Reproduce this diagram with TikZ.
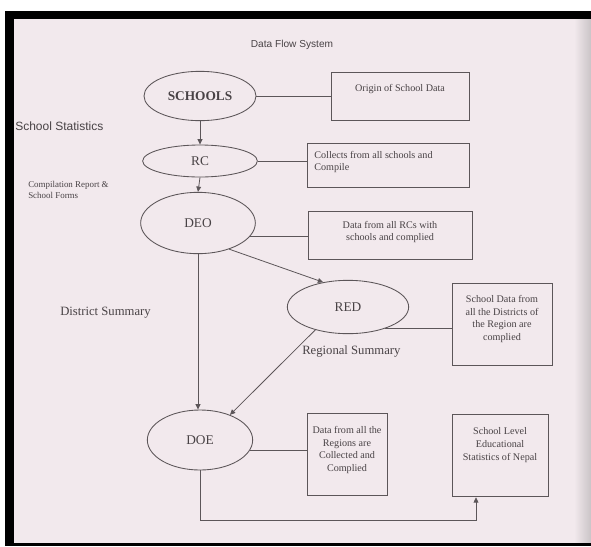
\documentclass[tikz,border=0pt]{standalone}
\usepackage{fontspec}
\setmainfont{Liberation Serif}
\newfontfamily\headfont{Liberation Sans}
\usetikzlibrary{arrows.meta,shapes.geometric}
\definecolor{paper}{RGB}{242,233,237}
\definecolor{ink}{RGB}{92,86,89}
\definecolor{txt}{RGB}{72,66,69}
\tikzset{
  proc/.style={ellipse, draw=ink, line width=0.65pt, inner sep=0pt,
    text=txt, font=\fontsize{10}{11}\selectfont},
  infobox/.style={rectangle, draw=ink, line width=0.6pt, inner sep=0pt},
  boxtext/.style={text=txt, font=\fontsize{7.6}{9.6}\selectfont, inner sep=0pt},
  note/.style={text=txt, font=\fontsize{9.5}{11}\selectfont, inner sep=0pt},
  flow/.style={draw=ink, line width=0.6pt},
  arr/.style={flow, -{Triangle[length=4pt,width=3.6pt]}}
}
\begin{document}
\begin{tikzpicture}[x=0.75pt, y=-0.75pt]
  \useasboundingbox (0,0) rectangle (591,546);
  % page, paper and black scan frame
  \fill[white] (0,0) rectangle (591,546);
  \fill[paper] (14,19) rectangle (591,543);
  \fill[left color=paper, right color=gray!35!paper] (574,19) rectangle (591,543);
  \fill[black] (5,11) rectangle (591,19);
  \fill[black] (5,11) rectangle (14,546);
  \fill[black] (5,543) rectangle (591,546);

  % title
  \node[text=txt, font=\headfont\fontsize{7.6}{9}\selectfont] (title) at (292,45) {Data Flow System};

  % process ellipses
  \node[proc, minimum width=84pt, minimum height=37pt, font=\bfseries\fontsize{10}{11}\selectfont] (schools) at (200,96) {SCHOOLS};
  \node[proc, minimum width=86pt, minimum height=24pt] (rc) at (200,161) {RC};
  \node[proc, minimum width=86pt, minimum height=46pt] (deo) at (198,223) {DEO};
  \node[proc, minimum width=91pt, minimum height=40pt] (red) at (348,307) {RED};
  \node[proc, minimum width=79pt, minimum height=45pt] (doe) at (200,440) {DOE};

  % description boxes
  \node[infobox, minimum width=103.5pt, minimum height=36pt] (b1) at (400,96) {};
  \node[boxtext, anchor=north] (t1) at ([yshift=-9pt]b1.north) {Origin of School Data};

  \node[infobox, minimum width=122pt, minimum height=33pt] (b2) at (388.5,165) {};
  \node[boxtext, anchor=north west, align=left] (t2) at ([xshift=5.5pt,yshift=-6pt]b2.north west) {Collects from all schools and\\Compile};

  \node[infobox, minimum width=123pt, minimum height=36pt] (b3) at (390,235) {};
  \node[boxtext, align=center] (t3) at (390,232) {Data from all RCs with\\schools and complied};

  \node[infobox, minimum width=75pt, minimum height=62pt] (b4) at (502,324.5) {};
  \node[boxtext, align=center] (t4) at (502,319) {School Data from\\all the Districts of\\the Region are\\complied};

  \node[infobox, minimum width=60pt, minimum height=61.5pt] (b5) at (347,454) {};
  \node[boxtext, align=center] (t5) at (347,450) {Data from all the\\Regions are\\Collected and\\Complied};

  \node[infobox, minimum width=72pt, minimum height=62pt] (b6) at (500,455.5) {};
  \node[boxtext, align=center] (t6) at (500,445) {School Level\\Educational\\Statistics of Nepal};

  % side labels
  \node[note, anchor=west, font=\headfont\fontsize{9}{10}\selectfont] (lss) at (15,126) {School Statistics};
  \node[note, anchor=north west, align=left, font=\fontsize{6.7}{8.4}\selectfont] (lcr) at (28,181) {Compilation Report \&\\School Forms};
  \node[note, anchor=west] (lds) at (60,313) {District Summary};
  \node[note, anchor=west] (lrs) at (302,351) {Regional Summary};

  % connectors
  \draw[flow] (schools.east) -- (schools.east -| b1.west);
  \draw[arr] (schools.south) -- (rc.north);
  \draw[flow] (rc.east) -- (rc.east -| b2.west);
  \draw[arr] (rc.south) -- (deo.north);
  \draw[flow] (deo.-15) -- (deo.-15 -| b3.west);
  \draw[arr] (deo.-40) -- (red.135);
  \draw[arr] (deo.south) -- (doe.north -| deo.south);
  \draw[flow] (red.-30) -- (red.-30 -| b4.west);
  \draw[arr] (red.215) -- (doe.40);
  \draw[flow] (doe.-12) -- (doe.-12 -| b5.west);
  \coordinate (turn) at (476,520);
  \draw[arr] (doe.south) |- (turn) -- (turn |- b6.south);
\end{tikzpicture}
\end{document}
